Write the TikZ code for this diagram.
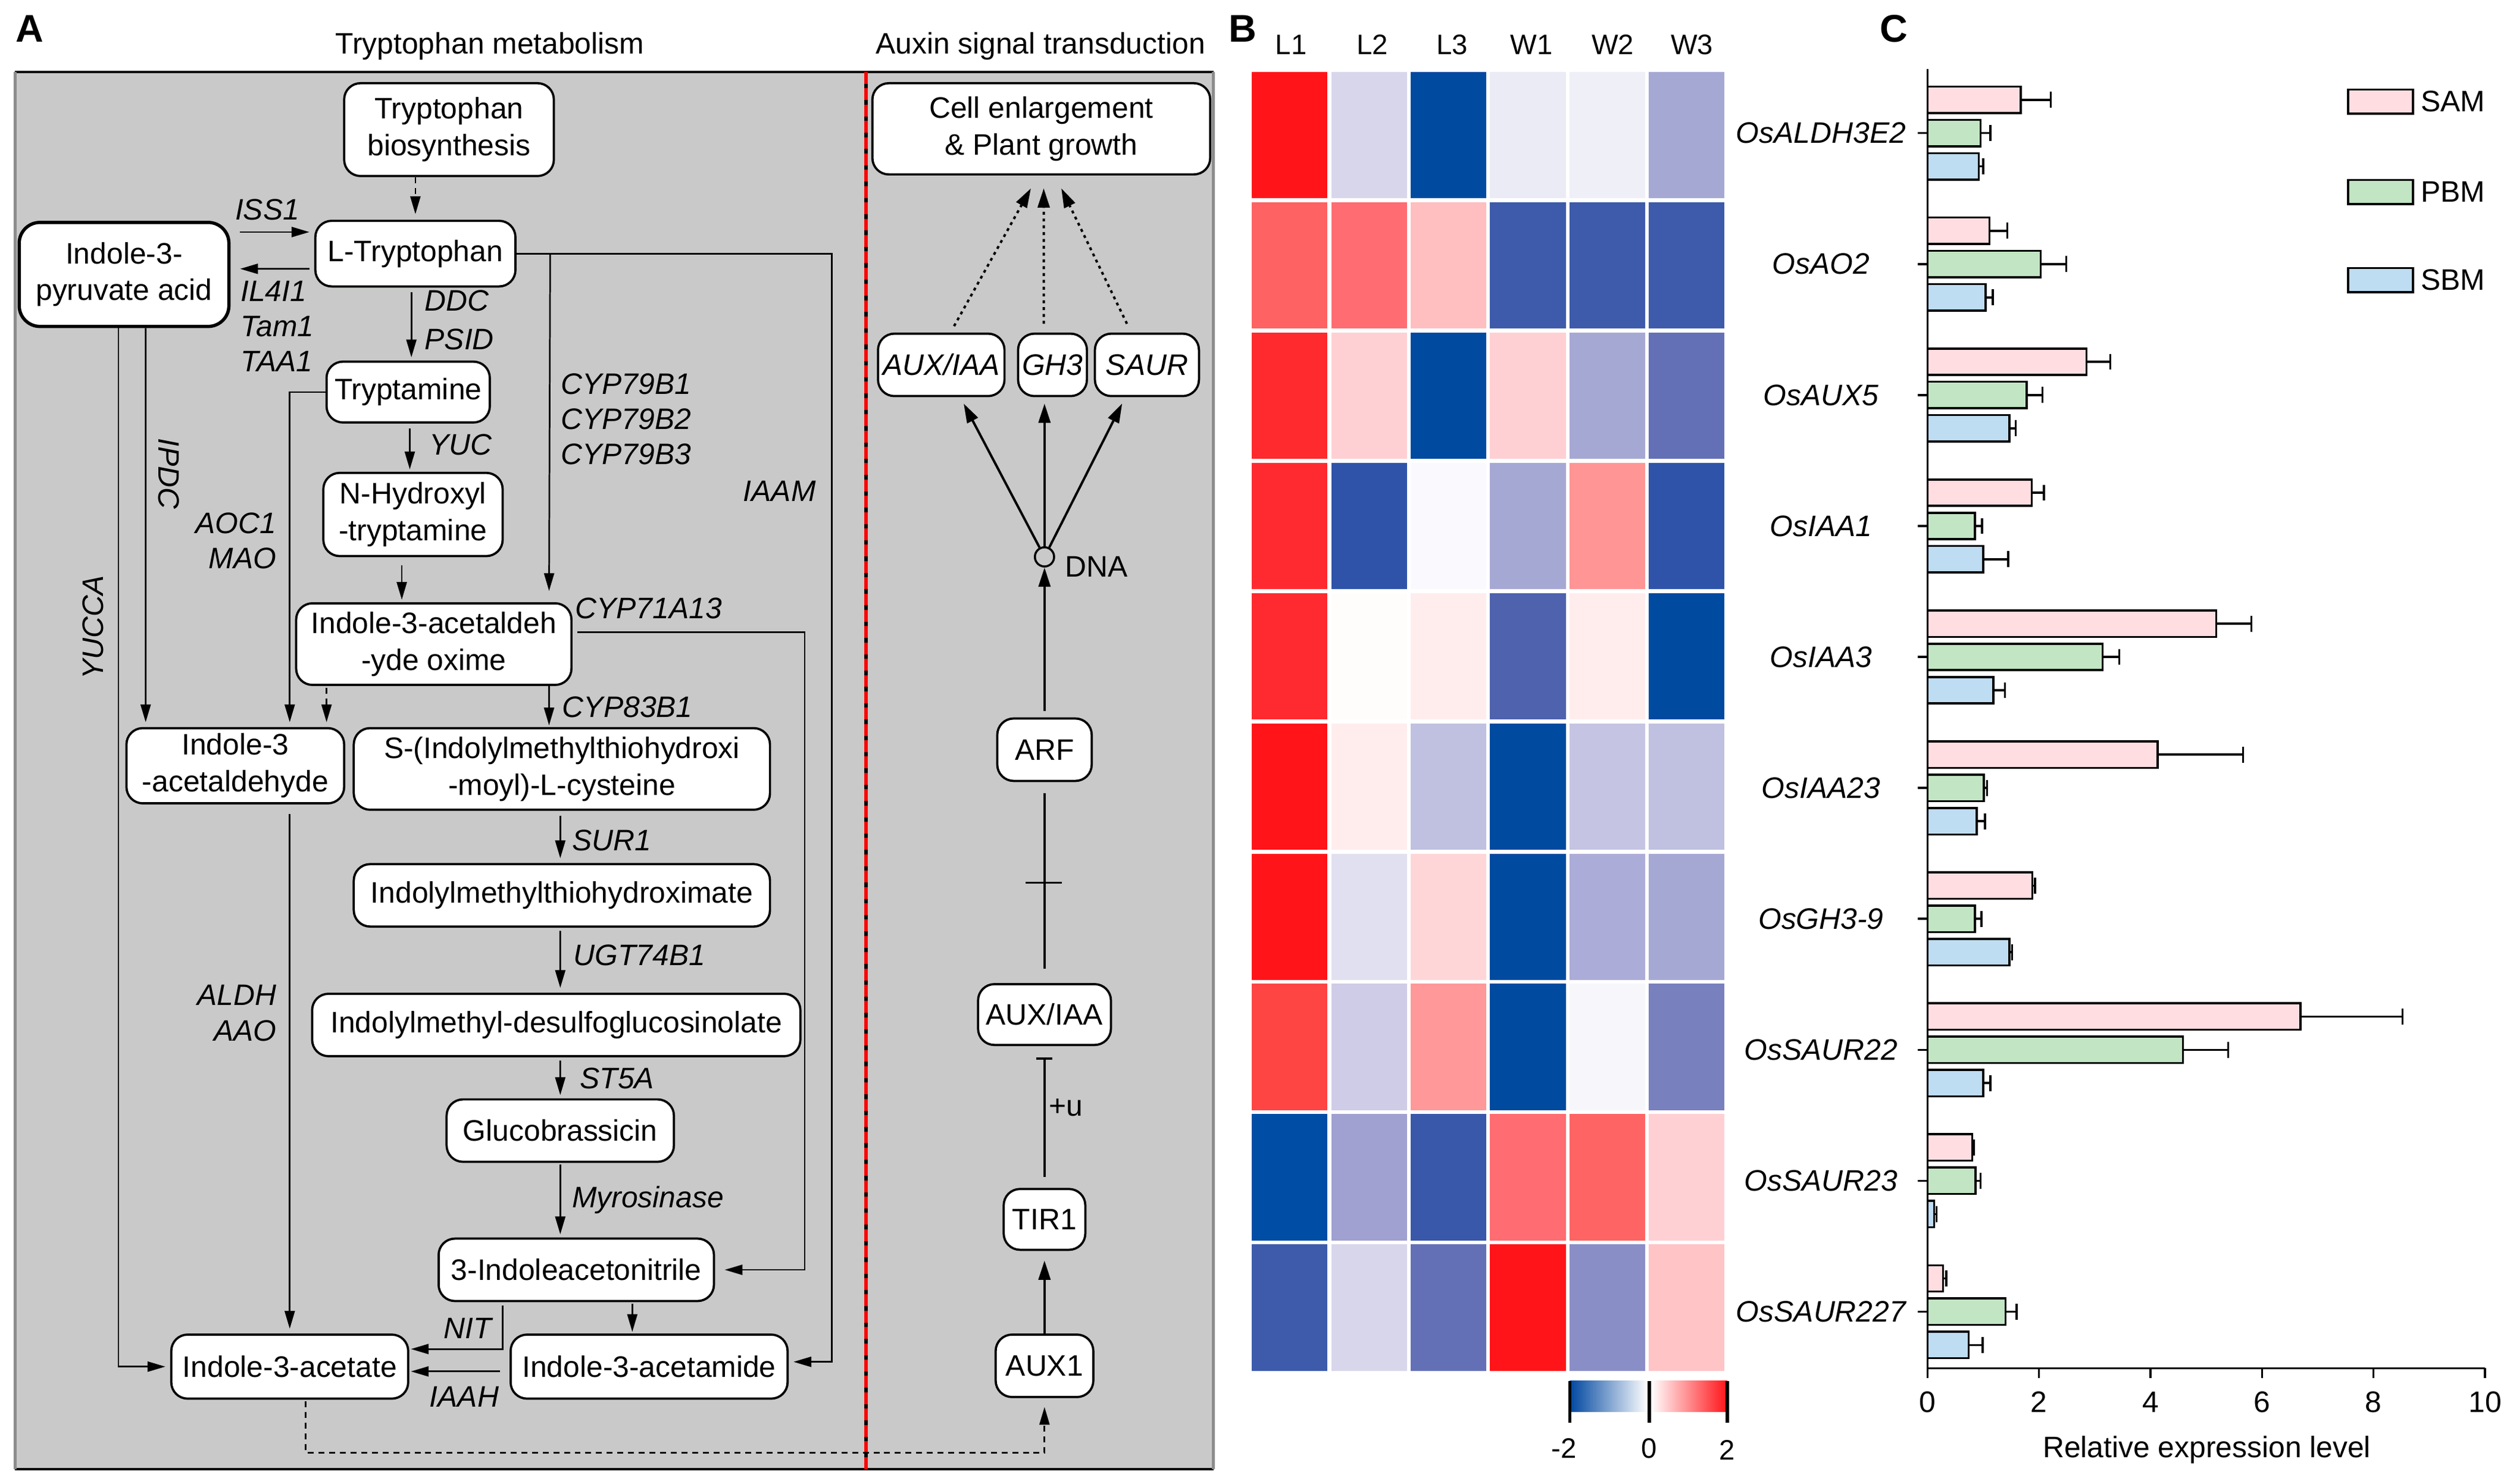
\documentclass[tikz,border=0pt]{standalone}
\usepackage{fontspec}
\setmainfont{Liberation Sans}
\usetikzlibrary{arrows.meta,calc}
\definecolor{panelgray}{RGB}{200,201,200}
\definecolor{samc}{HTML}{FFDDE1}
\definecolor{pbmc}{HTML}{C2E5C3}
\definecolor{sbmc}{HTML}{BEDCF2}
\definecolor{hblue}{HTML}{0047A0}
\definecolor{hred}{HTML}{FF1419}
\begin{document}
\begin{tikzpicture}[x=0.54pt, y=-0.54pt, font=\fontsize{10}{12.4}\selectfont,
  sz/.style 2 args={minimum width=#1*0.54pt, minimum height=#2*0.54pt},
  box/.style={draw=black, line width=0.75pt, fill=white, rounded corners=5.5pt, inner sep=0pt, align=center},
  conn/.style={line width=0.55pt},
  arr/.style={conn, -{Triangle[length=6pt,width=3.4pt]}},
  dsh/.style={dash pattern=on 2pt off 1.6pt},
  elab/.style={font=\fontsize{10}{12}\selectfont\itshape, inner sep=0pt},
  rline/.style={line width=0.8pt},
  rarr/.style={rline, -{Triangle[length=6.5pt,width=4pt]}},
  darr/.style={line width=0.8pt, dash pattern=on 1pt off 1.3pt, -{Triangle[length=6.5pt,width=4pt]}},
  barl/.style={line width=0.7pt, draw=black},
  errl/.style={line width=0.7pt},
  axl/.style={line width=0.7pt},
  plab/.style={font=\fontsize{13}{15}\selectfont\bfseries, inner sep=0pt}]

\useasboundingbox (0,0) rectangle (1568,927);
\fill[white] (0,0) rectangle (1568,927);

% ---------------- Panel A ----------------
\fill[panelgray] (9.4,45) rectangle (758,918);
\draw[line width=0.8pt] (9.4,45) -- (758,45);
\draw[line width=0.8pt] (9.4,918) -- (758,918);
\draw[line width=0.9pt, black!45] (9.4,45) -- (9.4,918);
\draw[line width=0.9pt, black!45] (758,45) -- (758,918);
\draw[line width=1.2pt, black] (541,45) -- (541,918);
\draw[line width=1.2pt, red, dash pattern=on 4pt off 1.5pt] (541,45) -- (541,918);

\node[plab] (lA) at (18.5,18) {A};
\node (tA) at (306,29) {Tryptophan metabolism};
\node (tB) at (650,29) {Auxin signal transduction};

% nodes left
\node[box, sz={131}{58}] (bio) at (280.5,81) {Tryptophan\\biosynthesis};
\node[box, sz={125}{41}] (ltrp) at (259.5,158.5) {L-Tryptophan};
\node[box, sz={131}{65}, line width=1.1pt, rounded corners=7pt] (pyr) at (77.5,171.5) {Indole-3-\\pyruvate acid};
\node[box, sz={102}{38}] (tam) at (255,245) {Tryptamine};
\node[box, sz={112}{52}] (nhyd) at (258,321.5) {N-Hydroxyl\\-tryptamine};
\node[box, sz={172}{51}] (iaox) at (271,402.5) {Indole-3-acetaldeh\\-yde oxime};
\node[box, sz={136}{47}] (iald) at (147,478.5) {Indole-3\\-acetaldehyde};
\node[box, sz={260}{51}] (scys) at (351,480.5) {S-(Indolylmethylthiohydroxi\\-moyl)-L-cysteine};
\node[box, sz={260}{39}] (imth) at (351,559.5) {Indolylmethylthiohydroximate};
\node[box, sz={305}{39}] (idsg) at (347.5,640.5) {Indolylmethyl-desulfoglucosinolate};
\node[box, sz={142}{39}] (gluc) at (350,706.5) {Glucobrassicin};
\node[box, sz={172}{39}] (ian) at (360,793.5) {3-Indoleacetonitrile};
\node[box, sz={148}{40}] (iaa) at (181,854) {Indole-3-acetate};
\node[box, sz={173}{40}] (iam) at (405.5,854) {Indole-3-acetamide};

% enzyme labels
\node[elab] (eiss) at (167,131) {ISS1};
\node[elab, anchor=west] (eil) at (150,182) {IL4I1};
\node[elab, anchor=west] (etam) at (150,204) {Tam1};
\node[elab, anchor=west] (etaa) at (150,226) {TAA1};
\node[elab, anchor=west] (eddc) at (265,188) {DDC};
\node[elab, anchor=west] (epsid) at (265,212) {PSID};
\node[elab, anchor=west] (eyuc) at (268,278) {YUC};
\node[elab, anchor=west] (ec1) at (350,240) {CYP79B1};
\node[elab, anchor=west] (ec2) at (350,262) {CYP79B2};
\node[elab, anchor=west] (ec3) at (350,284) {CYP79B3};
\node[elab] (eiaam) at (487,307) {IAAM};
\node[elab, rotate=-90] (eipdc) at (105.5,296) {IPDC};
\node[elab, anchor=east] (eaoc) at (173,327) {AOC1};
\node[elab, anchor=east] (emao) at (173,349) {MAO};
\node[elab, rotate=90] (eyucca) at (58,392) {YUCCA};
\node[elab, anchor=west] (ec71) at (359,380) {CYP71A13};
\node[elab, anchor=west] (ec83) at (351,442) {CYP83B1};
\node[elab, anchor=west] (esur) at (357,525) {SUR1};
\node[elab, anchor=west] (eugt) at (358,597) {UGT74B1};
\node[elab, anchor=east] (ealdh) at (173,622) {ALDH};
\node[elab, anchor=east] (eaao) at (173,644) {AAO};
\node[elab, anchor=west] (est) at (362,674) {ST5A};
\node[elab, anchor=west] (emyr) at (357,750) {Myrosinase};
\node[elab] (enit) at (292,830) {NIT};
\node[elab] (eiaah) at (290,873) {IAAH};

% connectors left
\draw[arr, dsh] (ltrp.north |- bio.south) -- ($(ltrp.north)+(0,-3.5)$);
\draw[arr] ($(pyr.east)+(6,-26.5)$) -- ($(ltrp.west)+(-3,-13.5)$);
\draw[arr] ($(ltrp.west)+(-3,9.5)$) -- ($(pyr.east)+(6,-3.5)$);
\draw[arr] ($(ltrp.south)+(-2.5,3)$) -- ($(tam.north)+(2,-2)$);
\draw[arr] ($(tam.south)+(1,3)$) -- ($(nhyd.north)+(-2,-1.5)$);
\draw[arr] ($(nhyd.south)+(-7,5)$) -- ($(iaox.north)+(-20,-1.5)$);
\draw[arr] (tam.west) -| ($(iald.north)+(34,-3)$);
\draw[arr, dsh] ($(iaox.south)+(-67,1)$) -- ($(iald.north)+(57,-3)$);
\draw[arr] ($(pyr.south)+(13.5,0)$) -- ($(iald.north)+(-56,-3)$);
\draw[arr] ($(pyr.south)+(-3.5,0)$) |- ($(iaa.west)+(-3,0)$);
\draw[arr] ($(iald.south -| iaa.north)+(0,6)$) -- ($(iaa.north)+(0,-3)$);
\draw[arr] (ltrp.east) -- ($(ltrp.east)+(197,0)$) |- ($(iam.east)+(3,-3)$);
\draw[arr] ($(ltrp.east)+(21,0)$) -- ($(iaox.north)+(72,-7)$);
\draw[arr] ($(iaox.south)+(72,0)$) -- ($(scys.north)+(-8,-1)$);
\draw[arr] ($(iaox.east)+(3,-7.5)$) -- ++(142,0) |- ($(ian.east)+(6,0)$);
\draw[arr] ($(scys.south)+(-1,3)$) -- ($(imth.north)+(-1,-3)$);
\draw[arr] ($(imth.south)+(-1,2)$) -- ($(idsg.north)+(2.5,-3)$);
\draw[arr] ($(idsg.south)+(2.5,2)$) -- ($(gluc.north)+(0,-2)$);
\draw[arr] ($(gluc.south)+(0,1)$) -- ($(gluc.south |- ian.north)+(0,-2)$);
\draw[arr] ($(ian.south)+(35,1)$) -- ($(iam.north)+(-10.5,-1)$);
\draw[arr] ($(ian.south)+(-46,2)$) |- ($(iaa.east)+(1,-11)$);
\draw[arr] ($(iam.west)+(-6,3)$) -- ($(iaa.east)+(1,3)$);

% right panel nodes
\node[box, sz={211}{57}] (cell) at (650.5,80.5) {Cell enlargement\\\& Plant growth};
\node[box, sz={79}{39}, font=\fontsize{10}{12}\selectfont\itshape] (rauxiaa) at (588,228) {AUX/IAA};
\node[box, sz={43}{39}, font=\fontsize{10}{12}\selectfont\itshape] (gh3) at (657.5,228) {GH3};
\node[box, sz={65}{39}, font=\fontsize{10}{12}\selectfont\itshape] (saur) at (716.5,228) {SAUR};
\node[circle, draw, line width=0.7pt, minimum size=12*0.54pt, inner sep=0pt] (dna) at (652.5,348) {};
\node (dnal) at (685,354) {DNA};
\node[box, sz={59}{39}] (arf) at (652.5,468.5) {ARF};
\node[box, sz={83}{38}] (raux) at (652.5,634) {AUX/IAA};
\node[box, sz={51}{38}] (tir) at (652.5,762) {TIR1};
\node[box, sz={61}{39}] (aux1) at (652.5,853.5) {AUX1};
\node (ub) at (666,692) {+u};

% right connectors
\draw[darr] ($(rauxiaa.north)+(8,-4)$) -- ($(cell.south)+(-6.5,8)$);
\draw[darr] ($(gh3.north)+(-5.5,-5.5)$) -- ($(cell.south)+(1.5,8)$);
\draw[darr] ($(saur.north)+(-12.5,-5.5)$) -- ($(cell.south)+(12.5,8)$);
\draw[rarr] (dna) -- ($(rauxiaa.south)+(14,4)$);
\draw[rarr] (dna) -- ($(gh3.south)+(-5,4)$);
\draw[rarr] (dna) -- ($(saur.south)+(-15.5,4)$);
\draw[rarr] ($(arf.north)+(0,-4)$) -- (dna);
\draw[rline] ($(arf.south)+(0,7)$) -- ($(raux.north)+(0,-9)$);
\draw[line width=0.6pt] ($(arf.south)!0.5!(raux.north)+(-12,0)$) -- ++(23,0);
\draw[rline, -{Bar[width=5.4pt, line width=0.8pt]}] ($(tir.north)+(0,-7)$) -- ($(raux.south)+(0,7)$);
\draw[rarr] (aux1.north) -- ($(tir.south)+(0,6)$);
\draw[arr, dsh] ($(iaa.south)+(10,1)$) -- ++(0,32) -| ($(aux1.south)+(0,5.5)$);

% ---------------- Panel B ----------------
\node[plab] (lB) at (776.5,18) {B};
\foreach \x/\t in {806.6/L1, 857.4/L2, 907.2/L3, 956.7/W1, 1007.5/W2, 1057/W3}
  \node[font=\fontsize{9.5}{11}\selectfont] (col\t) at (\x,28) {\t};
\foreach \row [count=\rr] in {
 {FF1419,D8D6EB,004AA0,EBEBF5,EFEFF7,A6A8D4},
 {FF6262,FF6C72,FFBEC0,3D5BAA,3D5BAA,3D5BAA},
 {FF2A2D,FFD0D3,004AA0,FFD0D3,A6A8D4,6470B6},
 {FF2A2F,2E53A8,FAFAFE,A6A8D4,FF9595,2E53A8},
 {FF2A2F,FFFDFC,FFEDED,4E62AD,FFEDED,004AA0},
 {FF1419,FFEDED,C0C0E0,004AA0,C5C4E3,C0C0E0},
 {FF1419,E1E0F0,FFD6D8,004AA0,ACACD8,A6A8D4},
 {FF4444,CFCCE7,FF9898,004AA0,F7F7FB,7880BE},
 {004DA5,A0A1D0,3A58AA,FF6C72,FF6464,FFD0D3},
 {3D5BAA,D8D6EB,6470B6,FF1419,8A8EC6,FFC4C6}} {
  \foreach \h [count=\cc] in \row {
    \edef\tmpdef{\noexpand\definecolor{tmpc}{HTML}{\h}}\tmpdef
    \fill[tmpc] ({782+49.6*(\cc-1)},{45+81.4*(\rr-1)}) rectangle ++(47.3,79);
  }
}
\shade[left color=hblue, right color=white] (980.6,863) rectangle (1029.3,882);
\shade[left color=white, right color=hred] (1031.3,863) rectangle (1079,882);
\foreach \x in {980.6,1030.3,1079} \draw[line width=1.1pt] (\x,863) -- (\x,889);
\node[font=\fontsize{9.5}{11}\selectfont] (cbm) at (977,905) {-2};
\node[font=\fontsize{9.5}{11}\selectfont] (cbz) at (1030.3,905) {0};
\node[font=\fontsize{9.5}{11}\selectfont] (cbp) at (1079,906) {2};

% ---------------- Panel C ----------------
\node[plab] (lC) at (1183,18) {C};
\foreach \i/\g in {1/OsALDH3E2, 2/OsAO2, 3/OsAUX5, 4/OsIAA1, 5/OsIAA3, 6/OsIAA23, 7/OsGH3-9, 8/OsSAUR22, 9/OsSAUR23, 10/OsSAUR227} {
  \pgfmathsetmacro\yc{83.2+81.83*(\i-1)}
  \node[font=\fontsize{10}{12}\selectfont\itshape] (gene\i) at (1137.6,\yc) {\g};
  \draw[axl] (1198,\yc) -- (1204.1,\yc);
}
\foreach \i/\va/\ea/\vb/\eb/\vc/\ec in {
 1/1.67/2.21/0.95/1.13/0.92/1.00,
 2/1.11/1.43/2.03/2.49/1.04/1.17,
 3/2.85/3.28/1.78/2.06/1.47/1.58,
 4/1.87/2.09/0.85/0.98/1.00/1.45,
 5/5.18/5.81/3.14/3.44/1.18/1.39,
 6/4.13/5.66/1.01/1.07/0.88/1.03,
 7/1.88/1.93/0.85/0.97/1.47/1.52,
 8/6.69/8.52/4.58/5.39/1.00/1.13,
 9/0.80/0.83/0.86/0.95/0.12/0.16,
 10/0.28/0.34/1.40/1.60/0.74/0.99} {
  \pgfmathsetmacro\yc{83.2+81.83*(\i-1)}
  \foreach \v/\e/\col/\dy in {\va/\ea/samc/-20.8, \vb/\eb/pbmc/0, \vc/\ec/sbmc/20.8} {
    \pgfmathsetmacro\yy{\yc+\dy}
    \draw[errl] ({1204.1+34.83*\v},\yy) -- ({1204.1+34.83*\e},\yy);
    \draw[errl] ({1204.1+34.83*\e},{\yy-5}) -- ({1204.1+34.83*\e},{\yy+5});
    \draw[barl, fill=\col] (1204.1,{\yy-8.25}) rectangle ({1204.1+34.83*\v},{\yy+8.25});
  }
}
\draw[axl] (1204.1,43) -- (1204.1,855) -- (1552.4,855);
\foreach \t in {0,2,4,6,8,10} {
  \draw[axl] ({1204.1+34.83*\t},855) -- ++(0,6);
  \node (tick\t) at ({1204.1+34.83*\t},876) {\t};
}
\node (xt) at (1378.6,906) {Relative expression level};
\foreach \y/\n/\col in {63.5/SAM/samc, 120/PBM/pbmc, 175/SBM/sbmc} {
  \draw[barl, fill=\col] (1466.8,{\y-7.5}) rectangle (1507.4,{\y+7.5});
  \node[anchor=west, inner sep=0pt] (leg\n) at (1512,\y) {\n};
}
\end{tikzpicture}
\end{document}
